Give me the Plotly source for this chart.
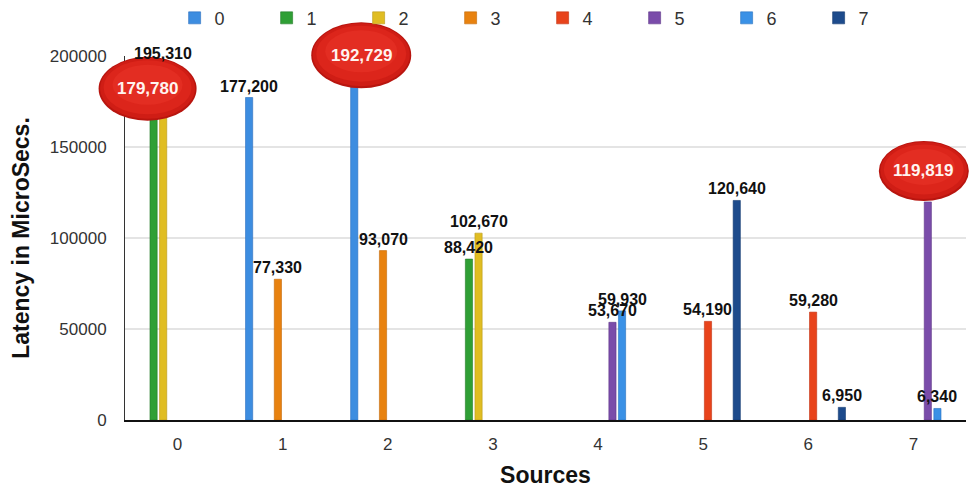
import plotly.graph_objects as go

# Sources on the x axis and the series drawn for each of them
SOURCES = ["0", "1", "2", "3", "4", "5", "6", "7"]
SERIES = ["0", "1", "2", "3", "4", "5", "6", "7"]

# Latency (microseconds) of each series per source; None = nothing measured
LAT_0 = [None, 177200, 192729, None, None, None, None, None]
LAT_1 = [179780, None, None, 88420, None, None, None, None]
LAT_2 = [195310, None, None, 102670, None, None, None, None]
LAT_3 = [None, 77330, 93070, None, None, None, None, None]
LAT_4 = [None, None, None, None, None, 54190, 59280, None]
LAT_5 = [None, None, None, None, 53670, None, None, 119819]
LAT_6 = [None, None, None, None, 59930, None, None, 6340]
LAT_7 = [None, None, None, None, None, 120640, 6950, None]
LATENCIES = [LAT_0, LAT_1, LAT_2, LAT_3, LAT_4, LAT_5, LAT_6, LAT_7]

# Highlighted measurements: (series index, source index)
HIGHLIGHTS = [(1, 0), (0, 2), (5, 7)]

# --- styling -------------------------------------------------------------
COLORS = ["#3d8de0", "#2f9f35", "#e0bd22", "#e8820f", "#e8431b",
          "#7a4caa", "#3a91e6", "#1d4b8c"]
EDGE = ["#2a6fc0", "#237a28", "#b8981a", "#c26a0a", "#c23212",
        "#5f3888", "#2a72c0", "#143a70"]
# callout ellipse: pixel offset of the centre from the bar top, and size
CALLOUT_STYLE = [dict(dx=-6, dy=4, w=98, h=64),
                 dict(dx=7, dy=14, w=100, h=66),
                 dict(dx=-4, dy=31, w=90, h=60)]
FONT = "Liberation Sans, Arial, Helvetica, sans-serif"
BARGAP = 0.27
BARGROUPGAP = 0.25
X_RANGE = [-0.5, len(SOURCES) - 0.5]
Y_RANGE = [0, 200000]

fig = go.Figure()

for s, (name, vals) in enumerate(zip(SERIES, LATENCIES)):
    fig.add_trace(go.Bar(
        name=name,
        x=list(range(len(SOURCES))),
        y=vals,
        marker=dict(color=COLORS[s], line=dict(color=EDGE[s], width=0.6)),
        hoverinfo="x+y+name",
    ))

# position of a bar centre inside its group, in x data units
n_series = len(SERIES)
slot = (1 - BARGAP) / n_series


def bar_x(series_idx, source_idx):
    return source_idx + (series_idx - (n_series - 1) / 2) * slot


# value labels above the bars (drawn on top of every bar)
for s, vals in enumerate(LATENCIES):
    for i, v in enumerate(vals):
        if v is None or (s, i) in HIGHLIGHTS:
            continue
        fig.add_annotation(
            x=bar_x(s, i), y=v, xref="x", yref="y",
            yanchor="bottom", yshift=1, showarrow=False,
            text=f"{v:,}",
            font=dict(family=FONT, size=16, color="#111", weight="bold"),
        )

# red ellipse callouts for the highlighted values
for (s, i), st in zip(HIGHLIGHTS, CALLOUT_STYLE):
    v = LATENCIES[s][i]
    xa = (bar_x(s, i) - X_RANGE[0]) / (X_RANGE[1] - X_RANGE[0])
    ya = (v - Y_RANGE[0]) / (Y_RANGE[1] - Y_RANGE[0])
    layers = [
        ("#b8150f", 0, 0, 0),
        ("#cf1d15", 1.5, 1.5, 0.5),
        ("#dc251b", 5, 5, 1.5),
        ("#e32d22", 14, 12, 4),
    ]
    for col, shrink_w, shrink_h, lift in layers:
        fig.add_shape(
            type="circle", xref="x domain", yref="y domain",
            xsizemode="pixel", ysizemode="pixel",
            xanchor=xa, yanchor=ya,
            x0=st["dx"] - st["w"] / 2 + shrink_w, x1=st["dx"] + st["w"] / 2 - shrink_w,
            y0=st["dy"] - st["h"] / 2 + shrink_h + lift,
            y1=st["dy"] + st["h"] / 2 - shrink_h + lift,
            fillcolor=col, line=dict(width=0), layer="above",
        )
    fig.add_annotation(
        x=bar_x(s, i), y=v, xref="x", yref="y",
        xshift=st["dx"], yshift=st["dy"],
        text=f"{v:,}", showarrow=False,
        font=dict(family=FONT, size=17, color="#fff4f0", weight="bold"),
    )

fig.update_layout(
    width=971, height=491,
    margin=dict(l=125, r=5, t=56, b=71, autoexpand=False),
    paper_bgcolor="white", plot_bgcolor="white",
    barmode="group", bargap=BARGAP, bargroupgap=BARGROUPGAP,
    font=dict(family=FONT, color="#333"),
    showlegend=True,
    legend=dict(
        orientation="h", x=0.059, xanchor="left", y=1.104, yanchor="middle",
        font=dict(family=FONT, size=18, color="#333"),
        entrywidth=47, traceorder="normal",
        bgcolor="rgba(0,0,0,0)",
    ),
    xaxis=dict(
        range=X_RANGE,
        tickmode="array",
        tickvals=list(range(len(SOURCES))),
        ticktext=SOURCES,
        showgrid=False, zeroline=False,
        showline=True, linecolor="#111", linewidth=1.5,
        ticks="", ticklabelstandoff=8,
        tickfont=dict(family=FONT, size=17, color="#333"),
        title=dict(text="Sources", standoff=14,
                   font=dict(family=FONT, size=23, color="#111", weight="bold")),
    ),
    yaxis=dict(
        range=Y_RANGE,
        dtick=50000, tickformat="d",
        showgrid=True, gridcolor="#e4e4e4", gridwidth=1.5,
        zeroline=False,
        showline=True, linecolor="#333", linewidth=1,
        ticks="", ticklabelstandoff=14,
        tickfont=dict(family=FONT, size=17, color="#333"),
        title=dict(text="Latency in MicroSecs.", standoff=13,
                   font=dict(family=FONT, size=23, color="#111", weight="bold")),
    ),
)

fig.write_html("out.html")
